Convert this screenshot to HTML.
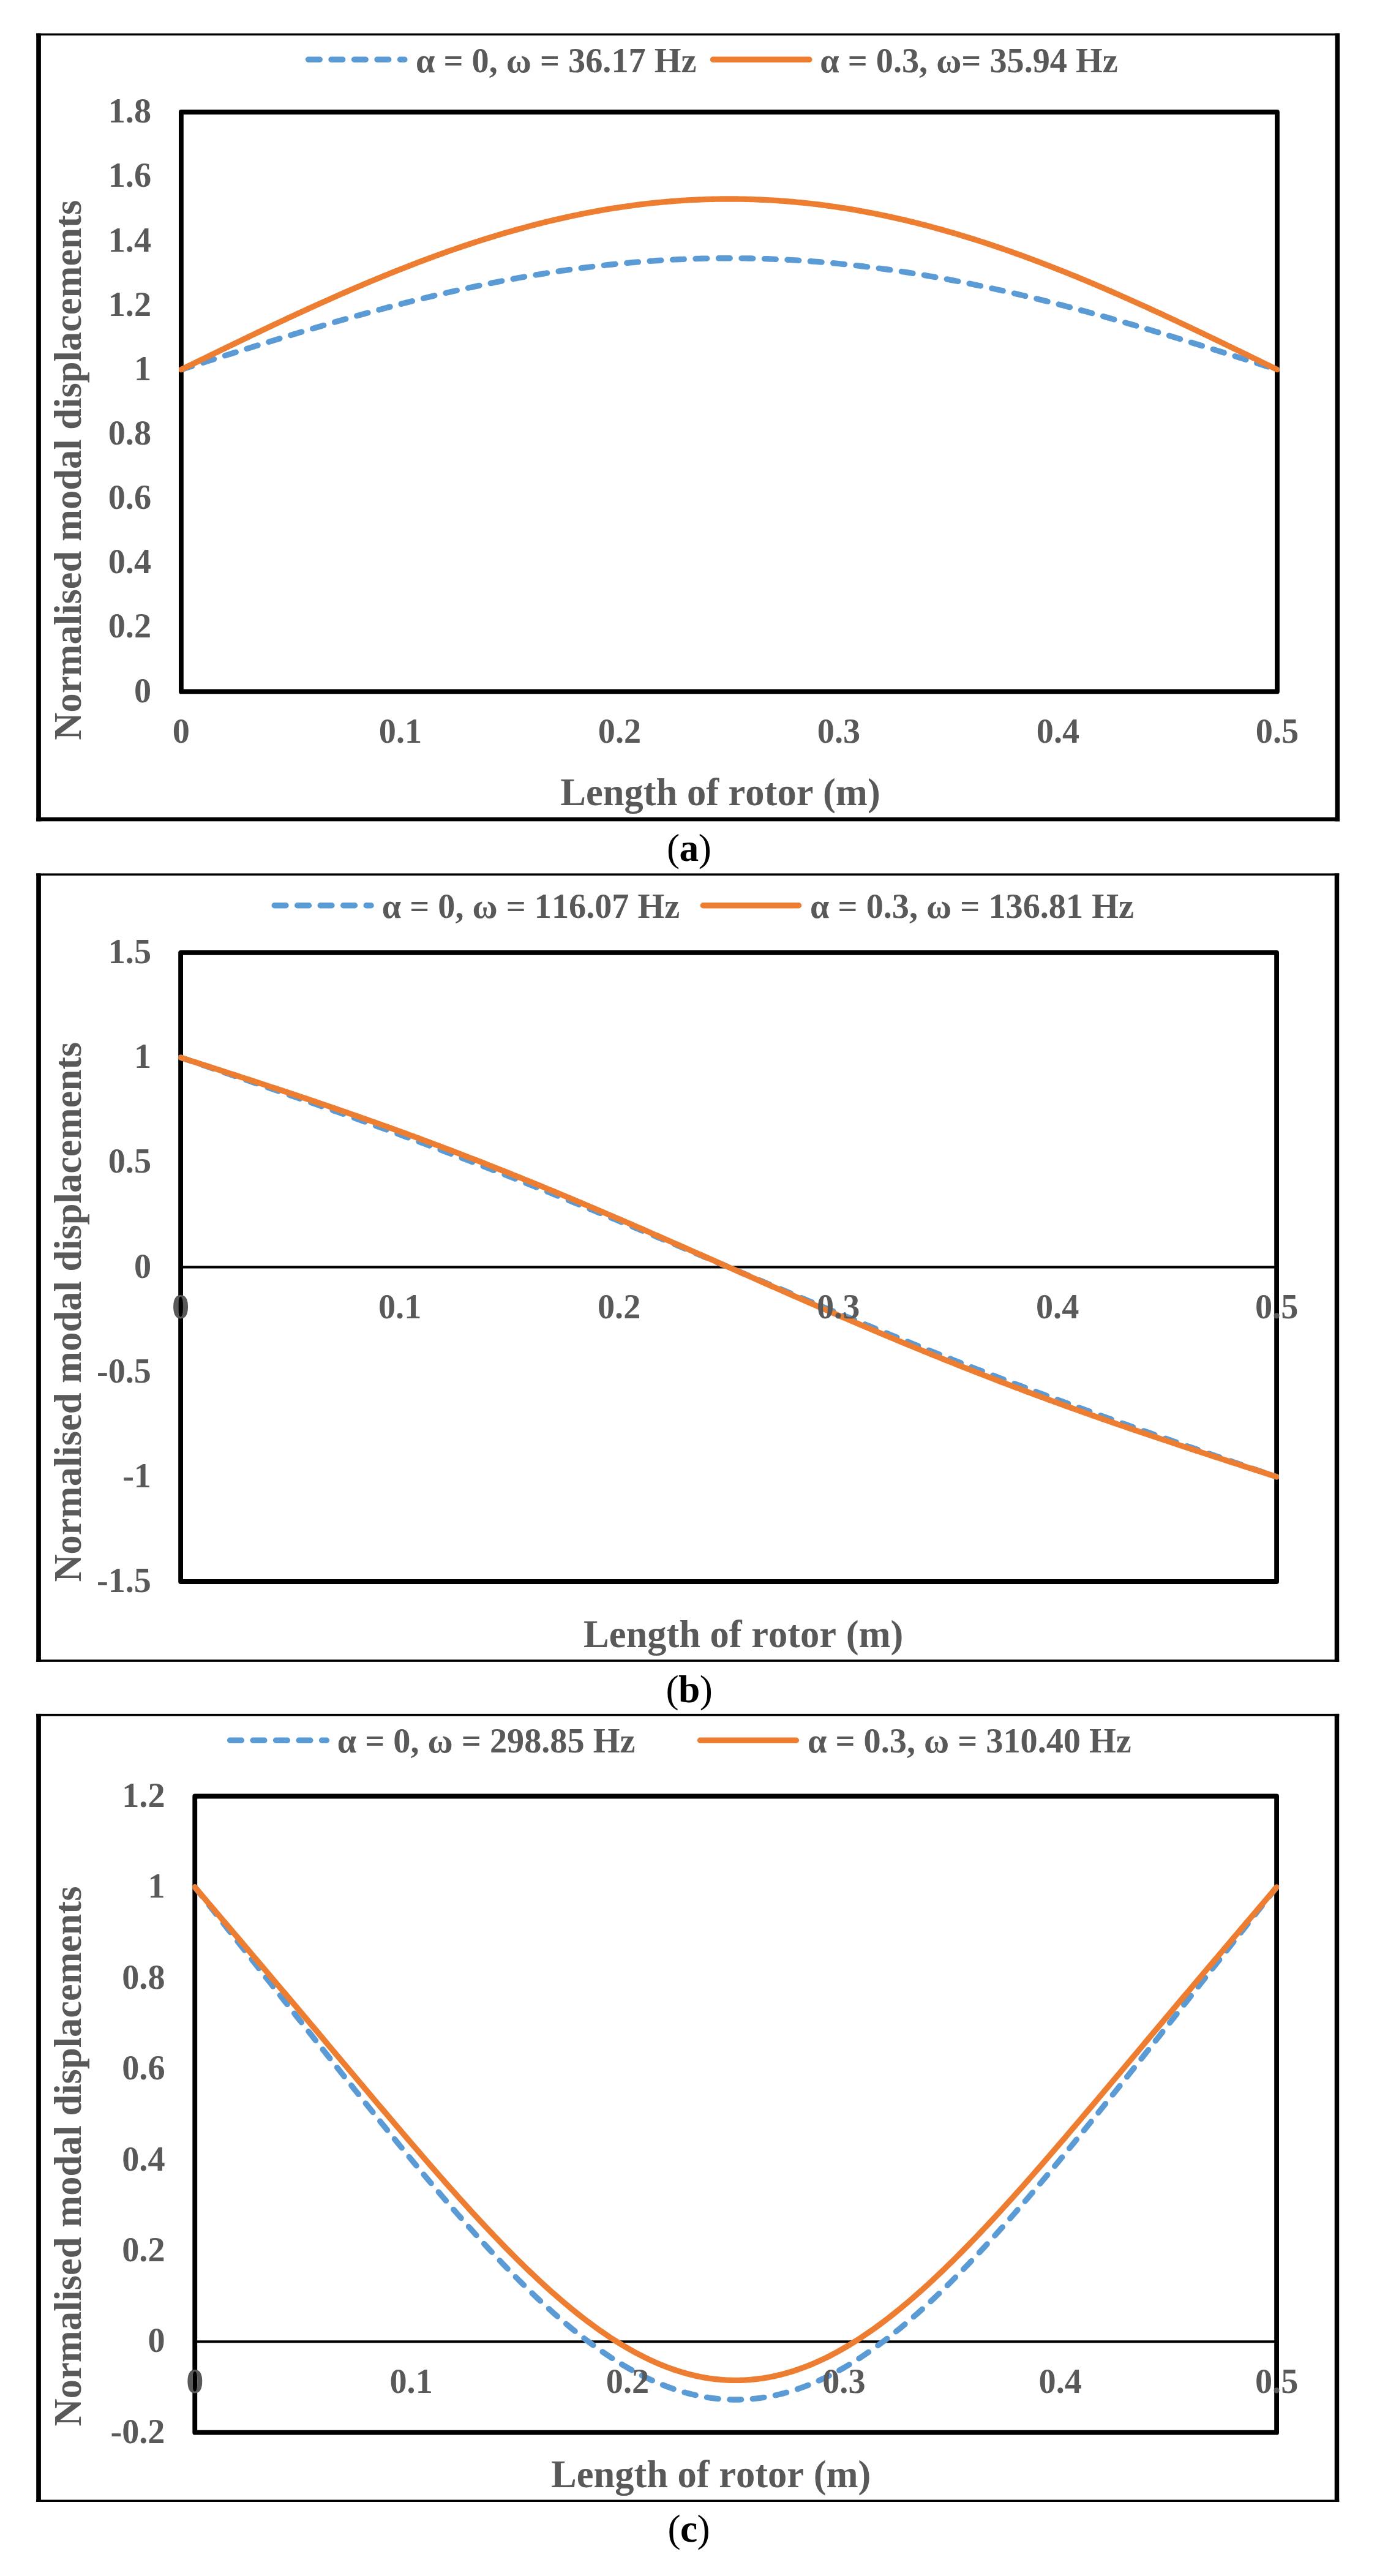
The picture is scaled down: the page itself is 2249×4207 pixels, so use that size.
<!DOCTYPE html>
<html><head><meta charset="utf-8"><title>Normalised modal displacements</title>
<style>html,body{margin:0;padding:0;background:#fff}svg{display:block}
text{font-family:"Liberation Serif",serif;font-weight:bold;font-kerning:none;font-variant-ligatures:none}</style></head>
<body><svg width="2249" height="4207" viewBox="0 0 2249 4207">
<rect width="2249" height="4207" fill="#fff"/>
<rect x="59.2" y="54.5" width="2128.80" height="3.4" fill="#000"/>
<rect x="59.2" y="1334.70" width="2128.80" height="6.6" fill="#000"/>
<rect x="59.2" y="54.5" width="7.7" height="1286.80" fill="#000"/>
<rect x="2180.50" y="54.5" width="7.5" height="1286.80" fill="#000"/>
<clipPath id="cp1"><rect x="292.00" y="179.10" width="1797.85" height="954.20"/></clipPath>
<rect x="295.9" y="183" width="1790.05" height="946.40" fill="none" stroke="#000" stroke-width="7.8" stroke-linejoin="round"/>
<g clip-path="url(#cp1)">
<path d="M295.90,603.62 L300.38,602.19 L304.85,600.76 L309.33,599.34 L313.80,597.91 L318.28,596.48 L322.75,595.05 L327.23,593.63 L331.70,592.20 L336.18,590.77 L340.65,589.35 L345.13,587.93 L349.60,586.50 L354.08,585.08 L358.55,583.66 L363.03,582.24 L367.50,580.82 L371.98,579.40 L376.45,577.99 L380.93,576.58 L385.40,575.16 L389.88,573.75 L394.35,572.35 L398.83,570.94 L403.30,569.53 L407.78,568.13 L412.25,566.73 L416.73,565.33 L421.20,563.94 L425.68,562.54 L430.15,561.15 L434.63,559.77 L439.10,558.38 L443.58,557.00 L448.05,555.62 L452.53,554.24 L457.00,552.87 L461.48,551.50 L465.95,550.13 L470.43,548.77 L474.90,547.41 L479.38,546.05 L483.86,544.70 L488.33,543.35 L492.81,542.00 L497.28,540.66 L501.76,539.32 L506.23,537.98 L510.71,536.65 L515.18,535.33 L519.66,534.00 L524.13,532.69 L528.61,531.37 L533.08,530.06 L537.56,528.76 L542.03,527.46 L546.51,526.16 L550.98,524.87 L555.46,523.59 L559.93,522.31 L564.41,521.03 L568.88,519.76 L573.36,518.50 L577.83,517.24 L582.31,515.98 L586.78,514.73 L591.26,513.49 L595.73,512.25 L600.21,511.02 L604.68,509.79 L609.16,508.57 L613.63,507.35 L618.11,506.15 L622.58,504.94 L627.06,503.74 L631.53,502.55 L636.01,501.37 L640.48,500.19 L644.96,499.02 L649.43,497.85 L653.91,496.69 L658.39,495.54 L662.86,494.39 L667.34,493.26 L671.81,492.12 L676.29,491.00 L680.76,489.88 L685.24,488.77 L689.71,487.66 L694.19,486.57 L698.66,485.48 L703.14,484.39 L707.61,483.32 L712.09,482.25 L716.56,481.19 L721.04,480.14 L725.51,479.09 L729.99,478.05 L734.46,477.02 L738.94,476.00 L743.41,474.99 L747.89,473.98 L752.36,472.98 L756.84,471.99 L761.31,471.01 L765.79,470.03 L770.26,469.07 L774.74,468.11 L779.21,467.16 L783.69,466.22 L788.16,465.29 L792.64,464.37 L797.11,463.45 L801.59,462.54 L806.06,461.65 L810.54,460.76 L815.01,459.88 L819.49,459.01 L823.96,458.14 L828.44,457.29 L832.91,456.45 L837.39,455.61 L841.87,454.79 L846.34,453.97 L850.82,453.16 L855.29,452.36 L859.77,451.57 L864.24,450.79 L868.72,450.02 L873.19,449.26 L877.67,448.51 L882.14,447.77 L886.62,447.04 L891.09,446.31 L895.57,445.60 L900.04,444.90 L904.52,444.21 L908.99,443.52 L913.47,442.85 L917.94,442.18 L922.42,441.53 L926.89,440.89 L931.37,440.25 L935.84,439.63 L940.32,439.02 L944.79,438.41 L949.27,437.82 L953.74,437.24 L958.22,436.67 L962.69,436.10 L967.17,435.55 L971.64,435.01 L976.12,434.48 L980.59,433.96 L985.07,433.45 L989.54,432.95 L994.02,432.46 L998.49,431.98 L1002.97,431.51 L1007.44,431.05 L1011.92,430.61 L1016.40,430.17 L1020.87,429.75 L1025.35,429.33 L1029.82,428.93 L1034.30,428.53 L1038.77,428.15 L1043.25,427.78 L1047.72,427.42 L1052.20,427.07 L1056.67,426.73 L1061.15,426.40 L1065.62,426.08 L1070.10,425.78 L1074.57,425.48 L1079.05,425.20 L1083.52,424.93 L1088.00,424.66 L1092.47,424.41 L1096.95,424.17 L1101.42,423.94 L1105.90,423.72 L1110.37,423.52 L1114.85,423.32 L1119.32,423.14 L1123.80,422.96 L1128.27,422.80 L1132.75,422.65 L1137.22,422.51 L1141.70,422.38 L1146.17,422.26 L1150.65,422.16 L1155.12,422.06 L1159.60,421.98 L1164.07,421.91 L1168.55,421.84 L1173.02,421.79 L1177.50,421.75 L1181.97,421.73 L1186.45,421.71 L1190.92,421.70 L1195.40,421.71 L1199.88,421.73 L1204.35,421.75 L1208.83,421.79 L1213.30,421.84 L1217.78,421.91 L1222.25,421.98 L1226.73,422.06 L1231.20,422.16 L1235.68,422.26 L1240.15,422.38 L1244.63,422.51 L1249.10,422.65 L1253.58,422.80 L1258.05,422.96 L1262.53,423.14 L1267.00,423.32 L1271.48,423.52 L1275.95,423.72 L1280.43,423.94 L1284.90,424.17 L1289.38,424.41 L1293.85,424.66 L1298.33,424.93 L1302.80,425.20 L1307.28,425.48 L1311.75,425.78 L1316.23,426.08 L1320.70,426.40 L1325.18,426.73 L1329.65,427.07 L1334.13,427.42 L1338.60,427.78 L1343.08,428.15 L1347.55,428.53 L1352.03,428.93 L1356.50,429.33 L1360.98,429.75 L1365.45,430.17 L1369.93,430.61 L1374.41,431.05 L1378.88,431.51 L1383.36,431.98 L1387.83,432.46 L1392.31,432.95 L1396.78,433.45 L1401.26,433.96 L1405.73,434.48 L1410.21,435.01 L1414.68,435.55 L1419.16,436.10 L1423.63,436.67 L1428.11,437.24 L1432.58,437.82 L1437.06,438.41 L1441.53,439.02 L1446.01,439.63 L1450.48,440.25 L1454.96,440.89 L1459.43,441.53 L1463.91,442.18 L1468.38,442.85 L1472.86,443.52 L1477.33,444.21 L1481.81,444.90 L1486.28,445.60 L1490.76,446.31 L1495.23,447.04 L1499.71,447.77 L1504.18,448.51 L1508.66,449.26 L1513.13,450.02 L1517.61,450.79 L1522.08,451.57 L1526.56,452.36 L1531.03,453.16 L1535.51,453.97 L1539.98,454.79 L1544.46,455.61 L1548.93,456.45 L1553.41,457.29 L1557.89,458.14 L1562.36,459.01 L1566.84,459.88 L1571.31,460.76 L1575.79,461.65 L1580.26,462.54 L1584.74,463.45 L1589.21,464.37 L1593.69,465.29 L1598.16,466.22 L1602.64,467.16 L1607.11,468.11 L1611.59,469.07 L1616.06,470.03 L1620.54,471.01 L1625.01,471.99 L1629.49,472.98 L1633.96,473.98 L1638.44,474.99 L1642.91,476.00 L1647.39,477.02 L1651.86,478.05 L1656.34,479.09 L1660.81,480.14 L1665.29,481.19 L1669.76,482.25 L1674.24,483.32 L1678.71,484.39 L1683.19,485.48 L1687.66,486.57 L1692.14,487.66 L1696.61,488.77 L1701.09,489.88 L1705.56,491.00 L1710.04,492.12 L1714.51,493.26 L1718.99,494.39 L1723.46,495.54 L1727.94,496.69 L1732.42,497.85 L1736.89,499.02 L1741.37,500.19 L1745.84,501.37 L1750.32,502.55 L1754.79,503.74 L1759.27,504.94 L1763.74,506.15 L1768.22,507.35 L1772.69,508.57 L1777.17,509.79 L1781.64,511.02 L1786.12,512.25 L1790.59,513.49 L1795.07,514.73 L1799.54,515.98 L1804.02,517.24 L1808.49,518.50 L1812.97,519.76 L1817.44,521.03 L1821.92,522.31 L1826.39,523.59 L1830.87,524.87 L1835.34,526.16 L1839.82,527.46 L1844.29,528.76 L1848.77,530.06 L1853.24,531.37 L1857.72,532.69 L1862.19,534.00 L1866.67,535.33 L1871.14,536.65 L1875.62,537.98 L1880.09,539.32 L1884.57,540.66 L1889.04,542.00 L1893.52,543.35 L1897.99,544.70 L1902.47,546.05 L1906.94,547.41 L1911.42,548.77 L1915.90,550.13 L1920.37,551.50 L1924.85,552.87 L1929.32,554.24 L1933.80,555.62 L1938.27,557.00 L1942.75,558.38 L1947.22,559.77 L1951.70,561.15 L1956.17,562.54 L1960.65,563.94 L1965.12,565.33 L1969.60,566.73 L1974.07,568.13 L1978.55,569.53 L1983.02,570.94 L1987.50,572.35 L1991.97,573.75 L1996.45,575.16 L2000.92,576.58 L2005.40,577.99 L2009.87,579.40 L2014.35,580.82 L2018.82,582.24 L2023.30,583.66 L2027.77,585.08 L2032.25,586.50 L2036.72,587.93 L2041.20,589.35 L2045.67,590.77 L2050.15,592.20 L2054.62,593.63 L2059.10,595.05 L2063.57,596.48 L2068.05,597.91 L2072.52,599.34 L2077.00,600.76 L2081.47,602.19 L2085.95,603.62" fill="none" stroke="#5B9BD5" stroke-width="9.375" stroke-dasharray="18.75 18.75" stroke-linecap="round" stroke-linejoin="round"/>
<path d="M295.90,603.62 L300.38,601.43 L304.85,599.25 L309.33,597.06 L313.80,594.87 L318.28,592.68 L322.75,590.50 L327.23,588.31 L331.70,586.12 L336.18,583.94 L340.65,581.76 L345.13,579.58 L349.60,577.40 L354.08,575.22 L358.55,573.04 L363.03,570.87 L367.50,568.70 L371.98,566.53 L376.45,564.36 L380.93,562.19 L385.40,560.03 L389.88,557.87 L394.35,555.71 L398.83,553.56 L403.30,551.41 L407.78,549.26 L412.25,547.11 L416.73,544.97 L421.20,542.83 L425.68,540.70 L430.15,538.57 L434.63,536.44 L439.10,534.32 L443.58,532.20 L448.05,530.09 L452.53,527.98 L457.00,525.88 L461.48,523.78 L465.95,521.68 L470.43,519.59 L474.90,517.51 L479.38,515.43 L483.86,513.36 L488.33,511.29 L492.81,509.23 L497.28,507.17 L501.76,505.12 L506.23,503.08 L510.71,501.04 L515.18,499.01 L519.66,496.98 L524.13,494.96 L528.61,492.95 L533.08,490.95 L537.56,488.95 L542.03,486.96 L546.51,484.97 L550.98,483.00 L555.46,481.03 L559.93,479.07 L564.41,477.11 L568.88,475.17 L573.36,473.23 L577.83,471.30 L582.31,469.38 L586.78,467.46 L591.26,465.56 L595.73,463.66 L600.21,461.77 L604.68,459.89 L609.16,458.02 L613.63,456.16 L618.11,454.31 L622.58,452.46 L627.06,450.63 L631.53,448.81 L636.01,446.99 L640.48,445.19 L644.96,443.39 L649.43,441.60 L653.91,439.83 L658.39,438.06 L662.86,436.31 L667.34,434.56 L671.81,432.83 L676.29,431.10 L680.76,429.39 L685.24,427.69 L689.71,426.00 L694.19,424.32 L698.66,422.65 L703.14,420.99 L707.61,419.34 L712.09,417.70 L716.56,416.08 L721.04,414.47 L725.51,412.86 L729.99,411.28 L734.46,409.70 L738.94,408.13 L743.41,406.58 L747.89,405.04 L752.36,403.51 L756.84,401.99 L761.31,400.49 L765.79,398.99 L770.26,397.51 L774.74,396.05 L779.21,394.59 L783.69,393.15 L788.16,391.73 L792.64,390.31 L797.11,388.91 L801.59,387.52 L806.06,386.15 L810.54,384.78 L815.01,383.44 L819.49,382.10 L823.96,380.78 L828.44,379.47 L832.91,378.18 L837.39,376.90 L841.87,375.63 L846.34,374.38 L850.82,373.15 L855.29,371.92 L859.77,370.71 L864.24,369.52 L868.72,368.34 L873.19,367.17 L877.67,366.02 L882.14,364.89 L886.62,363.77 L891.09,362.66 L895.57,361.57 L900.04,360.49 L904.52,359.43 L908.99,358.38 L913.47,357.35 L917.94,356.33 L922.42,355.33 L926.89,354.35 L931.37,353.38 L935.84,352.42 L940.32,351.48 L944.79,350.56 L949.27,349.65 L953.74,348.76 L958.22,347.88 L962.69,347.02 L967.17,346.17 L971.64,345.34 L976.12,344.53 L980.59,343.73 L985.07,342.95 L989.54,342.18 L994.02,341.43 L998.49,340.70 L1002.97,339.98 L1007.44,339.28 L1011.92,338.60 L1016.40,337.93 L1020.87,337.28 L1025.35,336.64 L1029.82,336.02 L1034.30,335.42 L1038.77,334.84 L1043.25,334.27 L1047.72,333.71 L1052.20,333.18 L1056.67,332.66 L1061.15,332.16 L1065.62,331.67 L1070.10,331.20 L1074.57,330.75 L1079.05,330.31 L1083.52,329.90 L1088.00,329.49 L1092.47,329.11 L1096.95,328.74 L1101.42,328.39 L1105.90,328.06 L1110.37,327.74 L1114.85,327.44 L1119.32,327.16 L1123.80,326.89 L1128.27,326.64 L1132.75,326.41 L1137.22,326.20 L1141.70,326.00 L1146.17,325.82 L1150.65,325.66 L1155.12,325.51 L1159.60,325.38 L1164.07,325.27 L1168.55,325.17 L1173.02,325.10 L1177.50,325.04 L1181.97,324.99 L1186.45,324.97 L1190.92,324.96 L1195.40,324.97 L1199.88,324.99 L1204.35,325.04 L1208.83,325.10 L1213.30,325.17 L1217.78,325.27 L1222.25,325.38 L1226.73,325.51 L1231.20,325.66 L1235.68,325.82 L1240.15,326.00 L1244.63,326.20 L1249.10,326.41 L1253.58,326.64 L1258.05,326.89 L1262.53,327.16 L1267.00,327.44 L1271.48,327.74 L1275.95,328.06 L1280.43,328.39 L1284.90,328.74 L1289.38,329.11 L1293.85,329.49 L1298.33,329.90 L1302.80,330.31 L1307.28,330.75 L1311.75,331.20 L1316.23,331.67 L1320.70,332.16 L1325.18,332.66 L1329.65,333.18 L1334.13,333.71 L1338.60,334.27 L1343.08,334.84 L1347.55,335.42 L1352.03,336.02 L1356.50,336.64 L1360.98,337.28 L1365.45,337.93 L1369.93,338.60 L1374.41,339.28 L1378.88,339.98 L1383.36,340.70 L1387.83,341.43 L1392.31,342.18 L1396.78,342.95 L1401.26,343.73 L1405.73,344.53 L1410.21,345.34 L1414.68,346.17 L1419.16,347.02 L1423.63,347.88 L1428.11,348.76 L1432.58,349.65 L1437.06,350.56 L1441.53,351.48 L1446.01,352.42 L1450.48,353.38 L1454.96,354.35 L1459.43,355.33 L1463.91,356.33 L1468.38,357.35 L1472.86,358.38 L1477.33,359.43 L1481.81,360.49 L1486.28,361.57 L1490.76,362.66 L1495.23,363.77 L1499.71,364.89 L1504.18,366.02 L1508.66,367.17 L1513.13,368.34 L1517.61,369.52 L1522.08,370.71 L1526.56,371.92 L1531.03,373.15 L1535.51,374.38 L1539.98,375.63 L1544.46,376.90 L1548.93,378.18 L1553.41,379.47 L1557.89,380.78 L1562.36,382.10 L1566.84,383.44 L1571.31,384.78 L1575.79,386.15 L1580.26,387.52 L1584.74,388.91 L1589.21,390.31 L1593.69,391.73 L1598.16,393.15 L1602.64,394.59 L1607.11,396.05 L1611.59,397.51 L1616.06,398.99 L1620.54,400.49 L1625.01,401.99 L1629.49,403.51 L1633.96,405.04 L1638.44,406.58 L1642.91,408.13 L1647.39,409.70 L1651.86,411.28 L1656.34,412.86 L1660.81,414.47 L1665.29,416.08 L1669.76,417.70 L1674.24,419.34 L1678.71,420.99 L1683.19,422.65 L1687.66,424.32 L1692.14,426.00 L1696.61,427.69 L1701.09,429.39 L1705.56,431.10 L1710.04,432.83 L1714.51,434.56 L1718.99,436.31 L1723.46,438.06 L1727.94,439.83 L1732.42,441.60 L1736.89,443.39 L1741.37,445.19 L1745.84,446.99 L1750.32,448.81 L1754.79,450.63 L1759.27,452.46 L1763.74,454.31 L1768.22,456.16 L1772.69,458.02 L1777.17,459.89 L1781.64,461.77 L1786.12,463.66 L1790.59,465.56 L1795.07,467.46 L1799.54,469.38 L1804.02,471.30 L1808.49,473.23 L1812.97,475.17 L1817.44,477.11 L1821.92,479.07 L1826.39,481.03 L1830.87,483.00 L1835.34,484.97 L1839.82,486.96 L1844.29,488.95 L1848.77,490.95 L1853.24,492.95 L1857.72,494.96 L1862.19,496.98 L1866.67,499.01 L1871.14,501.04 L1875.62,503.08 L1880.09,505.12 L1884.57,507.17 L1889.04,509.23 L1893.52,511.29 L1897.99,513.36 L1902.47,515.43 L1906.94,517.51 L1911.42,519.59 L1915.90,521.68 L1920.37,523.78 L1924.85,525.88 L1929.32,527.98 L1933.80,530.09 L1938.27,532.20 L1942.75,534.32 L1947.22,536.44 L1951.70,538.57 L1956.17,540.70 L1960.65,542.83 L1965.12,544.97 L1969.60,547.11 L1974.07,549.26 L1978.55,551.41 L1983.02,553.56 L1987.50,555.71 L1991.97,557.87 L1996.45,560.03 L2000.92,562.19 L2005.40,564.36 L2009.87,566.53 L2014.35,568.70 L2018.82,570.87 L2023.30,573.04 L2027.77,575.22 L2032.25,577.40 L2036.72,579.58 L2041.20,581.76 L2045.67,583.94 L2050.15,586.12 L2054.62,588.31 L2059.10,590.50 L2063.57,592.68 L2068.05,594.87 L2072.52,597.06 L2077.00,599.25 L2081.47,601.43 L2085.95,603.62" fill="none" stroke="#ED7D31" stroke-width="9.375" stroke-linecap="round" stroke-linejoin="round"/>
</g>
<text x="295.90" y="1212.50" font-size="56.25" text-anchor="middle" fill="#595959" >0</text>
<text x="653.91" y="1212.50" font-size="56.25" text-anchor="middle" fill="#595959" >0.1</text>
<text x="1011.92" y="1212.50" font-size="56.25" text-anchor="middle" fill="#595959" >0.2</text>
<text x="1369.93" y="1212.50" font-size="56.25" text-anchor="middle" fill="#595959" >0.3</text>
<text x="1727.94" y="1212.50" font-size="56.25" text-anchor="middle" fill="#595959" >0.4</text>
<text x="2085.95" y="1212.50" font-size="56.25" text-anchor="middle" fill="#595959" >0.5</text>
<text x="247.00" y="1146.60" font-size="56.25" text-anchor="end" fill="#595959" >0</text>
<text x="247.00" y="1041.44" font-size="56.25" text-anchor="end" fill="#595959" >0.2</text>
<text x="247.00" y="936.29" font-size="56.25" text-anchor="end" fill="#595959" >0.4</text>
<text x="247.00" y="831.13" font-size="56.25" text-anchor="end" fill="#595959" >0.6</text>
<text x="247.00" y="725.98" font-size="56.25" text-anchor="end" fill="#595959" >0.8</text>
<text x="247.00" y="620.82" font-size="56.25" text-anchor="end" fill="#595959" >1</text>
<text x="247.00" y="515.67" font-size="56.25" text-anchor="end" fill="#595959" >1.2</text>
<text x="247.00" y="410.51" font-size="56.25" text-anchor="end" fill="#595959" >1.4</text>
<text x="247.00" y="305.36" font-size="56.25" text-anchor="end" fill="#595959" >1.6</text>
<text x="247.00" y="200.20" font-size="56.25" text-anchor="end" fill="#595959" >1.8</text>
<text x="1176.50" y="1315.20" font-size="62.5" text-anchor="middle" fill="#595959" >Length of rotor (m)</text>
<text transform="translate(131.7,767.7) rotate(-90)" font-size="62.5" text-anchor="middle" fill="#595959">Normalised modal displacements</text>
<line x1="503.50" x2="660.90" y1="97.2" y2="97.2" stroke="#5B9BD5" stroke-width="9.375" stroke-dasharray="18.75 18.75" stroke-linecap="round"/>
<text x="679.00" y="117.60" font-size="56.25" text-anchor="start" fill="#595959" >α = 0, ω = 36.17 Hz</text>
<line x1="1164.50" x2="1321.90" y1="97.2" y2="97.2" stroke="#ED7D31" stroke-width="9.375" stroke-linecap="round"/>
<text x="1339.20" y="117.60" font-size="56.25" text-anchor="start" fill="#595959" >α = 0.3, ω= 35.94 Hz</text>
<text x="1125.2" y="1406.3" font-size="63.5" text-anchor="middle" fill="#000" style="font-weight:normal;letter-spacing:-0.6px">(<tspan style="font-weight:bold">a</tspan>)</text>
<rect x="59.2" y="1426.4" width="2128.00" height="3.5" fill="#000"/>
<rect x="59.2" y="2710.40" width="2128.00" height="3.5" fill="#000"/>
<rect x="59.2" y="1426.4" width="7.7" height="1287.50" fill="#000"/>
<rect x="2179.70" y="1426.4" width="7.5" height="1287.50" fill="#000"/>
<clipPath id="cp2"><rect x="291.20" y="1552.00" width="1797.80" height="1034.90"/></clipPath>
<line x1="295.1" x2="2085.1" y1="2069.45" y2="2069.45" stroke="#000" stroke-width="4.2"/>
<rect x="295.1" y="1555.9" width="1790.00" height="1027.10" fill="none" stroke="#000" stroke-width="7.8" stroke-linejoin="round"/>
<g clip-path="url(#cp2)">
<path d="M295.10,1727.08 L299.58,1728.61 L304.05,1730.14 L308.53,1731.67 L313.00,1733.20 L317.48,1734.73 L321.95,1736.26 L326.43,1737.79 L330.90,1739.32 L335.38,1740.85 L339.85,1742.38 L344.33,1743.91 L348.80,1745.44 L353.28,1746.98 L357.75,1748.51 L362.23,1750.04 L366.70,1751.58 L371.18,1753.11 L375.65,1754.65 L380.12,1756.19 L384.60,1757.72 L389.08,1759.26 L393.55,1760.80 L398.03,1762.34 L402.50,1763.88 L406.98,1765.42 L411.45,1766.97 L415.93,1768.51 L420.40,1770.06 L424.88,1771.61 L429.35,1773.15 L433.83,1774.70 L438.30,1776.25 L442.78,1777.81 L447.25,1779.36 L451.73,1780.92 L456.20,1782.47 L460.68,1784.03 L465.15,1785.59 L469.62,1787.15 L474.10,1788.71 L478.58,1790.28 L483.05,1791.85 L487.52,1793.41 L492.00,1794.98 L496.48,1796.56 L500.95,1798.13 L505.43,1799.71 L509.90,1801.28 L514.38,1802.86 L518.85,1804.44 L523.33,1806.03 L527.80,1807.61 L532.28,1809.20 L536.75,1810.79 L541.23,1812.38 L545.70,1813.98 L550.17,1815.57 L554.65,1817.17 L559.12,1818.77 L563.60,1820.38 L568.08,1821.98 L572.55,1823.59 L577.03,1825.20 L581.50,1826.81 L585.98,1828.43 L590.45,1830.04 L594.93,1831.66 L599.40,1833.29 L603.88,1834.91 L608.35,1836.54 L612.83,1838.17 L617.30,1839.80 L621.78,1841.44 L626.25,1843.08 L630.73,1844.72 L635.20,1846.36 L639.67,1848.01 L644.15,1849.65 L648.62,1851.31 L653.10,1852.96 L657.58,1854.62 L662.05,1856.28 L666.52,1857.94 L671.00,1859.60 L675.48,1861.27 L679.95,1862.94 L684.42,1864.61 L688.90,1866.29 L693.38,1867.97 L697.85,1869.65 L702.33,1871.34 L706.80,1873.02 L711.28,1874.71 L715.75,1876.41 L720.23,1878.10 L724.70,1879.80 L729.17,1881.50 L733.65,1883.21 L738.12,1884.92 L742.60,1886.63 L747.08,1888.34 L751.55,1890.06 L756.03,1891.77 L760.50,1893.50 L764.98,1895.22 L769.45,1896.95 L773.93,1898.68 L778.40,1900.41 L782.88,1902.15 L787.35,1903.89 L791.83,1905.63 L796.30,1907.37 L800.77,1909.12 L805.25,1910.87 L809.73,1912.63 L814.20,1914.38 L818.67,1916.14 L823.15,1917.90 L827.62,1919.67 L832.10,1921.43 L836.58,1923.20 L841.05,1924.97 L845.52,1926.75 L850.00,1928.53 L854.48,1930.31 L858.95,1932.09 L863.43,1933.88 L867.90,1935.67 L872.38,1937.46 L876.85,1939.25 L881.33,1941.05 L885.80,1942.84 L890.28,1944.65 L894.75,1946.45 L899.23,1948.26 L903.70,1950.06 L908.18,1951.88 L912.65,1953.69 L917.12,1955.50 L921.60,1957.32 L926.07,1959.14 L930.55,1960.97 L935.02,1962.79 L939.50,1964.62 L943.98,1966.45 L948.45,1968.28 L952.92,1970.11 L957.40,1971.95 L961.88,1973.79 L966.35,1975.63 L970.83,1977.47 L975.30,1979.31 L979.78,1981.16 L984.25,1983.01 L988.73,1984.86 L993.20,1986.71 L997.68,1988.56 L1002.15,1990.42 L1006.63,1992.28 L1011.10,1994.13 L1015.58,1996.00 L1020.05,1997.86 L1024.53,1999.72 L1029.00,2001.59 L1033.47,2003.45 L1037.95,2005.32 L1042.42,2007.19 L1046.90,2009.06 L1051.38,2010.94 L1055.85,2012.81 L1060.33,2014.69 L1064.80,2016.56 L1069.28,2018.44 L1073.75,2020.32 L1078.22,2022.20 L1082.70,2024.08 L1087.18,2025.96 L1091.65,2027.85 L1096.12,2029.73 L1100.60,2031.62 L1105.08,2033.50 L1109.55,2035.39 L1114.03,2037.28 L1118.50,2039.17 L1122.97,2041.06 L1127.45,2042.95 L1131.93,2044.84 L1136.40,2046.73 L1140.88,2048.62 L1145.35,2050.51 L1149.82,2052.40 L1154.30,2054.30 L1158.78,2056.19 L1163.25,2058.08 L1167.72,2059.98 L1172.20,2061.87 L1176.67,2063.77 L1181.15,2065.66 L1185.62,2067.56 L1190.10,2069.45 L1194.57,2071.34 L1199.05,2073.24 L1203.53,2075.13 L1208.00,2077.03 L1212.47,2078.92 L1216.95,2080.82 L1221.42,2082.71 L1225.90,2084.60 L1230.38,2086.50 L1234.85,2088.39 L1239.32,2090.28 L1243.80,2092.17 L1248.28,2094.06 L1252.75,2095.95 L1257.22,2097.84 L1261.70,2099.73 L1266.17,2101.62 L1270.65,2103.51 L1275.12,2105.40 L1279.60,2107.28 L1284.08,2109.17 L1288.55,2111.05 L1293.03,2112.94 L1297.50,2114.82 L1301.97,2116.70 L1306.45,2118.58 L1310.93,2120.46 L1315.40,2122.34 L1319.88,2124.21 L1324.35,2126.09 L1328.83,2127.96 L1333.30,2129.84 L1337.78,2131.71 L1342.25,2133.58 L1346.72,2135.45 L1351.20,2137.31 L1355.68,2139.18 L1360.15,2141.04 L1364.62,2142.90 L1369.10,2144.77 L1373.58,2146.62 L1378.05,2148.48 L1382.53,2150.34 L1387.00,2152.19 L1391.47,2154.04 L1395.95,2155.89 L1400.43,2157.74 L1404.90,2159.59 L1409.38,2161.43 L1413.85,2163.27 L1418.32,2165.11 L1422.80,2166.95 L1427.28,2168.79 L1431.75,2170.62 L1436.22,2172.45 L1440.70,2174.28 L1445.17,2176.11 L1449.65,2177.93 L1454.12,2179.76 L1458.60,2181.58 L1463.07,2183.40 L1467.55,2185.21 L1472.03,2187.02 L1476.50,2188.84 L1480.97,2190.64 L1485.45,2192.45 L1489.93,2194.25 L1494.40,2196.06 L1498.88,2197.85 L1503.35,2199.65 L1507.82,2201.44 L1512.30,2203.23 L1516.78,2205.02 L1521.25,2206.81 L1525.72,2208.59 L1530.20,2210.37 L1534.68,2212.15 L1539.15,2213.93 L1543.62,2215.70 L1548.10,2217.47 L1552.58,2219.23 L1557.05,2221.00 L1561.53,2222.76 L1566.00,2224.52 L1570.47,2226.27 L1574.95,2228.03 L1579.43,2229.78 L1583.90,2231.53 L1588.38,2233.27 L1592.85,2235.01 L1597.33,2236.75 L1601.80,2238.49 L1606.28,2240.22 L1610.75,2241.95 L1615.22,2243.68 L1619.70,2245.40 L1624.18,2247.13 L1628.65,2248.84 L1633.12,2250.56 L1637.60,2252.27 L1642.07,2253.98 L1646.55,2255.69 L1651.03,2257.40 L1655.50,2259.10 L1659.97,2260.80 L1664.45,2262.49 L1668.92,2264.19 L1673.40,2265.88 L1677.88,2267.56 L1682.35,2269.25 L1686.82,2270.93 L1691.30,2272.61 L1695.78,2274.29 L1700.25,2275.96 L1704.72,2277.63 L1709.20,2279.30 L1713.68,2280.96 L1718.15,2282.62 L1722.62,2284.28 L1727.10,2285.94 L1731.57,2287.59 L1736.05,2289.25 L1740.53,2290.89 L1745.00,2292.54 L1749.47,2294.18 L1753.95,2295.82 L1758.43,2297.46 L1762.90,2299.10 L1767.38,2300.73 L1771.85,2302.36 L1776.33,2303.99 L1780.80,2305.61 L1785.28,2307.24 L1789.75,2308.86 L1794.22,2310.47 L1798.70,2312.09 L1803.18,2313.70 L1807.65,2315.31 L1812.12,2316.92 L1816.60,2318.52 L1821.08,2320.13 L1825.55,2321.73 L1830.03,2323.33 L1834.50,2324.92 L1838.97,2326.52 L1843.45,2328.11 L1847.93,2329.70 L1852.40,2331.29 L1856.88,2332.87 L1861.35,2334.46 L1865.82,2336.04 L1870.30,2337.62 L1874.78,2339.19 L1879.25,2340.77 L1883.72,2342.34 L1888.20,2343.92 L1892.67,2345.49 L1897.15,2347.05 L1901.62,2348.62 L1906.10,2350.19 L1910.57,2351.75 L1915.05,2353.31 L1919.53,2354.87 L1924.00,2356.43 L1928.47,2357.98 L1932.95,2359.54 L1937.43,2361.09 L1941.90,2362.65 L1946.38,2364.20 L1950.85,2365.75 L1955.32,2367.29 L1959.80,2368.84 L1964.28,2370.39 L1968.75,2371.93 L1973.22,2373.48 L1977.70,2375.02 L1982.18,2376.56 L1986.65,2378.10 L1991.12,2379.64 L1995.60,2381.18 L2000.08,2382.71 L2004.55,2384.25 L2009.03,2385.79 L2013.50,2387.32 L2017.97,2388.86 L2022.45,2390.39 L2026.93,2391.92 L2031.40,2393.46 L2035.88,2394.99 L2040.35,2396.52 L2044.83,2398.05 L2049.30,2399.58 L2053.78,2401.11 L2058.25,2402.64 L2062.72,2404.17 L2067.20,2405.70 L2071.68,2407.23 L2076.15,2408.76 L2080.62,2410.29 L2085.10,2411.82" fill="none" stroke="#5B9BD5" stroke-width="9.375" stroke-dasharray="18.75 18.75" stroke-linecap="round" stroke-linejoin="round"/>
<path d="M295.10,1727.08 L299.58,1728.53 L304.05,1729.97 L308.53,1731.41 L313.00,1732.86 L317.48,1734.30 L321.95,1735.74 L326.43,1737.19 L330.90,1738.63 L335.38,1740.08 L339.85,1741.52 L344.33,1742.97 L348.80,1744.42 L353.28,1745.87 L357.75,1747.31 L362.23,1748.76 L366.70,1750.22 L371.18,1751.67 L375.65,1753.12 L380.12,1754.57 L384.60,1756.03 L389.08,1757.49 L393.55,1758.95 L398.03,1760.40 L402.50,1761.87 L406.98,1763.33 L411.45,1764.79 L415.93,1766.26 L420.40,1767.73 L424.88,1769.20 L429.35,1770.67 L433.83,1772.14 L438.30,1773.62 L442.78,1775.09 L447.25,1776.57 L451.73,1778.05 L456.20,1779.54 L460.68,1781.02 L465.15,1782.51 L469.62,1784.00 L474.10,1785.49 L478.58,1786.99 L483.05,1788.49 L487.52,1789.99 L492.00,1791.49 L496.48,1793.00 L500.95,1794.51 L505.43,1796.02 L509.90,1797.53 L514.38,1799.05 L518.85,1800.57 L523.33,1802.09 L527.80,1803.62 L532.28,1805.15 L536.75,1806.68 L541.23,1808.22 L545.70,1809.76 L550.17,1811.30 L554.65,1812.84 L559.12,1814.39 L563.60,1815.94 L568.08,1817.50 L572.55,1819.06 L577.03,1820.62 L581.50,1822.19 L585.98,1823.76 L590.45,1825.33 L594.93,1826.91 L599.40,1828.49 L603.88,1830.07 L608.35,1831.66 L612.83,1833.25 L617.30,1834.85 L621.78,1836.45 L626.25,1838.05 L630.73,1839.66 L635.20,1841.27 L639.67,1842.88 L644.15,1844.50 L648.62,1846.12 L653.10,1847.75 L657.58,1849.38 L662.05,1851.02 L666.52,1852.65 L671.00,1854.30 L675.48,1855.94 L679.95,1857.59 L684.42,1859.25 L688.90,1860.91 L693.38,1862.57 L697.85,1864.24 L702.33,1865.91 L706.80,1867.59 L711.28,1869.27 L715.75,1870.95 L720.23,1872.64 L724.70,1874.33 L729.17,1876.03 L733.65,1877.73 L738.12,1879.44 L742.60,1881.15 L747.08,1882.86 L751.55,1884.58 L756.03,1886.30 L760.50,1888.03 L764.98,1889.76 L769.45,1891.50 L773.93,1893.23 L778.40,1894.98 L782.88,1896.73 L787.35,1898.48 L791.83,1900.23 L796.30,1901.99 L800.77,1903.76 L805.25,1905.53 L809.73,1907.30 L814.20,1909.08 L818.67,1910.86 L823.15,1912.64 L827.62,1914.43 L832.10,1916.22 L836.58,1918.02 L841.05,1919.82 L845.52,1921.63 L850.00,1923.43 L854.48,1925.25 L858.95,1927.06 L863.43,1928.88 L867.90,1930.71 L872.38,1932.54 L876.85,1934.37 L881.33,1936.20 L885.80,1938.04 L890.28,1939.89 L894.75,1941.73 L899.23,1943.59 L903.70,1945.44 L908.18,1947.30 L912.65,1949.16 L917.12,1951.02 L921.60,1952.89 L926.07,1954.76 L930.55,1956.64 L935.02,1958.52 L939.50,1960.40 L943.98,1962.28 L948.45,1964.17 L952.92,1966.06 L957.40,1967.96 L961.88,1969.85 L966.35,1971.75 L970.83,1973.66 L975.30,1975.56 L979.78,1977.47 L984.25,1979.39 L988.73,1981.30 L993.20,1983.22 L997.68,1985.14 L1002.15,1987.06 L1006.63,1988.99 L1011.10,1990.91 L1015.58,1992.85 L1020.05,1994.78 L1024.53,1996.71 L1029.00,1998.65 L1033.47,2000.59 L1037.95,2002.53 L1042.42,2004.48 L1046.90,2006.42 L1051.38,2008.37 L1055.85,2010.32 L1060.33,2012.28 L1064.80,2014.23 L1069.28,2016.19 L1073.75,2018.14 L1078.22,2020.10 L1082.70,2022.06 L1087.18,2024.03 L1091.65,2025.99 L1096.12,2027.96 L1100.60,2029.92 L1105.08,2031.89 L1109.55,2033.86 L1114.03,2035.83 L1118.50,2037.80 L1122.97,2039.78 L1127.45,2041.75 L1131.93,2043.72 L1136.40,2045.70 L1140.88,2047.68 L1145.35,2049.65 L1149.82,2051.63 L1154.30,2053.61 L1158.78,2055.59 L1163.25,2057.57 L1167.72,2059.55 L1172.20,2061.53 L1176.67,2063.51 L1181.15,2065.49 L1185.62,2067.47 L1190.10,2069.45 L1194.57,2071.43 L1199.05,2073.41 L1203.53,2075.39 L1208.00,2077.37 L1212.47,2079.35 L1216.95,2081.33 L1221.42,2083.31 L1225.90,2085.29 L1230.38,2087.27 L1234.85,2089.25 L1239.32,2091.22 L1243.80,2093.20 L1248.28,2095.18 L1252.75,2097.15 L1257.22,2099.12 L1261.70,2101.10 L1266.17,2103.07 L1270.65,2105.04 L1275.12,2107.01 L1279.60,2108.98 L1284.08,2110.94 L1288.55,2112.91 L1293.03,2114.87 L1297.50,2116.84 L1301.97,2118.80 L1306.45,2120.76 L1310.93,2122.71 L1315.40,2124.67 L1319.88,2126.62 L1324.35,2128.58 L1328.83,2130.53 L1333.30,2132.48 L1337.78,2134.42 L1342.25,2136.37 L1346.72,2138.31 L1351.20,2140.25 L1355.68,2142.19 L1360.15,2144.12 L1364.62,2146.05 L1369.10,2147.99 L1373.58,2149.91 L1378.05,2151.84 L1382.53,2153.76 L1387.00,2155.68 L1391.47,2157.60 L1395.95,2159.51 L1400.43,2161.43 L1404.90,2163.34 L1409.38,2165.24 L1413.85,2167.15 L1418.32,2169.05 L1422.80,2170.94 L1427.28,2172.84 L1431.75,2174.73 L1436.22,2176.62 L1440.70,2178.50 L1445.17,2180.38 L1449.65,2182.26 L1454.12,2184.14 L1458.60,2186.01 L1463.07,2187.88 L1467.55,2189.74 L1472.03,2191.60 L1476.50,2193.46 L1480.97,2195.31 L1485.45,2197.17 L1489.93,2199.01 L1494.40,2200.86 L1498.88,2202.70 L1503.35,2204.53 L1507.82,2206.36 L1512.30,2208.19 L1516.78,2210.02 L1521.25,2211.84 L1525.72,2213.65 L1530.20,2215.47 L1534.68,2217.27 L1539.15,2219.08 L1543.62,2220.88 L1548.10,2222.68 L1552.58,2224.47 L1557.05,2226.26 L1561.53,2228.04 L1566.00,2229.82 L1570.47,2231.60 L1574.95,2233.37 L1579.43,2235.14 L1583.90,2236.91 L1588.38,2238.67 L1592.85,2240.42 L1597.33,2242.17 L1601.80,2243.92 L1606.28,2245.67 L1610.75,2247.40 L1615.22,2249.14 L1619.70,2250.87 L1624.18,2252.60 L1628.65,2254.32 L1633.12,2256.04 L1637.60,2257.75 L1642.07,2259.46 L1646.55,2261.17 L1651.03,2262.87 L1655.50,2264.57 L1659.97,2266.26 L1664.45,2267.95 L1668.92,2269.63 L1673.40,2271.31 L1677.88,2272.99 L1682.35,2274.66 L1686.82,2276.33 L1691.30,2277.99 L1695.78,2279.65 L1700.25,2281.31 L1704.72,2282.96 L1709.20,2284.60 L1713.68,2286.25 L1718.15,2287.88 L1722.62,2289.52 L1727.10,2291.15 L1731.57,2292.78 L1736.05,2294.40 L1740.53,2296.02 L1745.00,2297.63 L1749.47,2299.24 L1753.95,2300.85 L1758.43,2302.45 L1762.90,2304.05 L1767.38,2305.65 L1771.85,2307.24 L1776.33,2308.83 L1780.80,2310.41 L1785.28,2311.99 L1789.75,2313.57 L1794.22,2315.14 L1798.70,2316.71 L1803.18,2318.28 L1807.65,2319.84 L1812.12,2321.40 L1816.60,2322.96 L1821.08,2324.51 L1825.55,2326.06 L1830.03,2327.60 L1834.50,2329.14 L1838.97,2330.68 L1843.45,2332.22 L1847.93,2333.75 L1852.40,2335.28 L1856.88,2336.81 L1861.35,2338.33 L1865.82,2339.85 L1870.30,2341.37 L1874.78,2342.88 L1879.25,2344.39 L1883.72,2345.90 L1888.20,2347.41 L1892.67,2348.91 L1897.15,2350.41 L1901.62,2351.91 L1906.10,2353.41 L1910.57,2354.90 L1915.05,2356.39 L1919.53,2357.88 L1924.00,2359.36 L1928.47,2360.85 L1932.95,2362.33 L1937.43,2363.81 L1941.90,2365.28 L1946.38,2366.76 L1950.85,2368.23 L1955.32,2369.70 L1959.80,2371.17 L1964.28,2372.64 L1968.75,2374.11 L1973.22,2375.57 L1977.70,2377.03 L1982.18,2378.50 L1986.65,2379.95 L1991.12,2381.41 L1995.60,2382.87 L2000.08,2384.33 L2004.55,2385.78 L2009.03,2387.23 L2013.50,2388.68 L2017.97,2390.14 L2022.45,2391.59 L2026.93,2393.03 L2031.40,2394.48 L2035.88,2395.93 L2040.35,2397.38 L2044.83,2398.82 L2049.30,2400.27 L2053.78,2401.71 L2058.25,2403.16 L2062.72,2404.60 L2067.20,2406.04 L2071.68,2407.49 L2076.15,2408.93 L2080.62,2410.37 L2085.10,2411.82" fill="none" stroke="#ED7D31" stroke-width="9.375" stroke-linecap="round" stroke-linejoin="round"/>
</g>
<text x="295.10" y="2153.00" font-size="56.25" text-anchor="middle" fill="#595959" >0</text>
<text x="653.10" y="2153.00" font-size="56.25" text-anchor="middle" fill="#595959" >0.1</text>
<text x="1011.10" y="2153.00" font-size="56.25" text-anchor="middle" fill="#595959" >0.2</text>
<text x="1369.10" y="2153.00" font-size="56.25" text-anchor="middle" fill="#595959" >0.3</text>
<text x="1727.10" y="2153.00" font-size="56.25" text-anchor="middle" fill="#595959" >0.4</text>
<text x="2085.10" y="2153.00" font-size="56.25" text-anchor="middle" fill="#595959" >0.5</text>
<text x="247.00" y="2600.20" font-size="56.25" text-anchor="end" fill="#595959" >-1.5</text>
<text x="247.00" y="2429.02" font-size="56.25" text-anchor="end" fill="#595959" >-1</text>
<text x="247.00" y="2257.83" font-size="56.25" text-anchor="end" fill="#595959" >-0.5</text>
<text x="247.00" y="2086.65" font-size="56.25" text-anchor="end" fill="#595959" >0</text>
<text x="247.00" y="1915.47" font-size="56.25" text-anchor="end" fill="#595959" >0.5</text>
<text x="247.00" y="1744.28" font-size="56.25" text-anchor="end" fill="#595959" >1</text>
<text x="247.00" y="1573.10" font-size="56.25" text-anchor="end" fill="#595959" >1.5</text>
<text x="1214.20" y="2689.90" font-size="62.5" text-anchor="middle" fill="#595959" >Length of rotor (m)</text>
<text transform="translate(131.7,2142.55) rotate(-90)" font-size="62.5" text-anchor="middle" fill="#595959">Normalised modal displacements</text>
<line x1="448.20" x2="606.10" y1="1478.8" y2="1478.8" stroke="#5B9BD5" stroke-width="9.375" stroke-dasharray="18.75 18.75" stroke-linecap="round"/>
<text x="623.70" y="1498.70" font-size="56.25" text-anchor="start" fill="#595959" >α = 0, ω = 116.07 Hz</text>
<line x1="1148.30" x2="1304.50" y1="1478.8" y2="1478.8" stroke="#ED7D31" stroke-width="9.375" stroke-linecap="round"/>
<text x="1323.10" y="1498.70" font-size="56.25" text-anchor="start" fill="#595959" >α = 0.3, ω = 136.81 Hz</text>
<text x="1125.4" y="2779.9" font-size="63.5" text-anchor="middle" fill="#000" style="font-weight:normal;letter-spacing:-0.6px">(<tspan style="font-weight:bold">b</tspan>)</text>
<rect x="59.2" y="2798.9" width="2128.00" height="3.8" fill="#000"/>
<rect x="59.2" y="4082.50" width="2128.00" height="3.5" fill="#000"/>
<rect x="59.2" y="2798.9" width="7.7" height="1287.10" fill="#000"/>
<rect x="2179.70" y="2798.9" width="7.5" height="1287.10" fill="#000"/>
<clipPath id="cp3"><rect x="314.35" y="2929.60" width="1774.65" height="1047.00"/></clipPath>
<line x1="318.25" x2="2085.1" y1="3824.24" y2="3824.24" stroke="#000" stroke-width="4.2"/>
<rect x="318.25" y="2933.5" width="1766.85" height="1039.20" fill="none" stroke="#000" stroke-width="7.8" stroke-linejoin="round"/>
<g clip-path="url(#cp3)">
<path d="M318.25,3081.96 L322.67,3087.56 L327.08,3093.17 L331.50,3098.78 L335.92,3104.39 L340.34,3109.99 L344.75,3115.60 L349.17,3121.21 L353.59,3126.82 L358.00,3132.42 L362.42,3138.03 L366.84,3143.64 L371.26,3149.25 L375.67,3154.85 L380.09,3160.46 L384.51,3166.07 L388.92,3171.68 L393.34,3177.29 L397.76,3182.89 L402.18,3188.50 L406.59,3194.11 L411.01,3199.72 L415.43,3205.33 L419.84,3210.94 L424.26,3216.54 L428.68,3222.15 L433.10,3227.76 L437.51,3233.37 L441.93,3238.97 L446.35,3244.58 L450.76,3250.19 L455.18,3255.79 L459.60,3261.40 L464.02,3267.00 L468.43,3272.60 L472.85,3278.21 L477.27,3283.81 L481.68,3289.41 L486.10,3295.01 L490.52,3300.61 L494.94,3306.20 L499.35,3311.80 L503.77,3317.39 L508.19,3322.99 L512.60,3328.58 L517.02,3334.16 L521.44,3339.75 L525.85,3345.33 L530.27,3350.91 L534.69,3356.49 L539.11,3362.06 L543.52,3367.64 L547.94,3373.20 L552.36,3378.77 L556.77,3384.33 L561.19,3389.88 L565.61,3395.44 L570.03,3400.98 L574.44,3406.52 L578.86,3412.06 L583.28,3417.59 L587.69,3423.12 L592.11,3428.64 L596.53,3434.15 L600.95,3439.66 L605.36,3445.16 L609.78,3450.65 L614.20,3456.14 L618.61,3461.61 L623.03,3467.08 L627.45,3472.54 L631.87,3478.00 L636.28,3483.44 L640.70,3488.87 L645.12,3494.29 L649.53,3499.71 L653.95,3505.11 L658.37,3510.50 L662.79,3515.88 L667.20,3521.24 L671.62,3526.60 L676.04,3531.94 L680.45,3537.26 L684.87,3542.58 L689.29,3547.88 L693.71,3553.16 L698.12,3558.43 L702.54,3563.68 L706.96,3568.92 L711.37,3574.14 L715.79,3579.34 L720.21,3584.53 L724.63,3589.69 L729.04,3594.84 L733.46,3599.97 L737.88,3605.08 L742.29,3610.17 L746.71,3615.24 L751.13,3620.28 L755.55,3625.31 L759.96,3630.31 L764.38,3635.29 L768.80,3640.24 L773.21,3645.18 L777.63,3650.08 L782.05,3654.96 L786.47,3659.82 L790.88,3664.65 L795.30,3669.45 L799.72,3674.22 L804.13,3678.97 L808.55,3683.68 L812.97,3688.37 L817.39,3693.03 L821.80,3697.65 L826.22,3702.25 L830.64,3706.81 L835.05,3711.34 L839.47,3715.84 L843.89,3720.30 L848.30,3724.73 L852.72,3729.13 L857.14,3733.48 L861.56,3737.81 L865.97,3742.09 L870.39,3746.34 L874.81,3750.55 L879.22,3754.72 L883.64,3758.86 L888.06,3762.95 L892.48,3767.00 L896.89,3771.01 L901.31,3774.98 L905.73,3778.91 L910.14,3782.79 L914.56,3786.63 L918.98,3790.43 L923.40,3794.18 L927.81,3797.89 L932.23,3801.55 L936.65,3805.17 L941.06,3808.73 L945.48,3812.25 L949.90,3815.72 L954.32,3819.15 L958.73,3822.52 L963.15,3825.85 L967.57,3829.12 L971.98,3832.34 L976.40,3835.51 L980.82,3838.63 L985.24,3841.70 L989.65,3844.72 L994.07,3847.68 L998.49,3850.58 L1002.90,3853.43 L1007.32,3856.23 L1011.74,3858.97 L1016.16,3861.66 L1020.57,3864.29 L1024.99,3866.86 L1029.41,3869.37 L1033.82,3871.83 L1038.24,3874.23 L1042.66,3876.57 L1047.08,3878.85 L1051.49,3881.07 L1055.91,3883.24 L1060.33,3885.34 L1064.74,3887.38 L1069.16,3889.36 L1073.58,3891.28 L1078.00,3893.13 L1082.41,3894.93 L1086.83,3896.66 L1091.25,3898.33 L1095.66,3899.94 L1100.08,3901.48 L1104.50,3902.96 L1108.92,3904.38 L1113.33,3905.73 L1117.75,3907.02 L1122.17,3908.24 L1126.58,3909.40 L1131.00,3910.49 L1135.42,3911.52 L1139.84,3912.48 L1144.25,3913.38 L1148.67,3914.21 L1153.09,3914.98 L1157.50,3915.67 L1161.92,3916.31 L1166.34,3916.87 L1170.76,3917.37 L1175.17,3917.81 L1179.59,3918.18 L1184.01,3918.48 L1188.42,3918.71 L1192.84,3918.88 L1197.26,3918.98 L1201.67,3919.01 L1206.09,3918.98 L1210.51,3918.88 L1214.93,3918.71 L1219.34,3918.48 L1223.76,3918.18 L1228.18,3917.81 L1232.59,3917.37 L1237.01,3916.87 L1241.43,3916.31 L1245.85,3915.67 L1250.26,3914.98 L1254.68,3914.21 L1259.10,3913.38 L1263.51,3912.48 L1267.93,3911.52 L1272.35,3910.49 L1276.77,3909.40 L1281.18,3908.24 L1285.60,3907.02 L1290.02,3905.73 L1294.43,3904.38 L1298.85,3902.96 L1303.27,3901.48 L1307.69,3899.94 L1312.10,3898.33 L1316.52,3896.66 L1320.94,3894.93 L1325.35,3893.13 L1329.77,3891.28 L1334.19,3889.36 L1338.61,3887.38 L1343.02,3885.34 L1347.44,3883.24 L1351.86,3881.07 L1356.27,3878.85 L1360.69,3876.57 L1365.11,3874.23 L1369.53,3871.83 L1373.94,3869.37 L1378.36,3866.86 L1382.78,3864.29 L1387.19,3861.66 L1391.61,3858.97 L1396.03,3856.23 L1400.45,3853.43 L1404.86,3850.58 L1409.28,3847.68 L1413.70,3844.72 L1418.11,3841.70 L1422.53,3838.63 L1426.95,3835.51 L1431.37,3832.34 L1435.78,3829.12 L1440.20,3825.85 L1444.62,3822.52 L1449.03,3819.15 L1453.45,3815.72 L1457.87,3812.25 L1462.29,3808.73 L1466.70,3805.17 L1471.12,3801.55 L1475.54,3797.89 L1479.95,3794.18 L1484.37,3790.43 L1488.79,3786.63 L1493.21,3782.79 L1497.62,3778.91 L1502.04,3774.98 L1506.46,3771.01 L1510.87,3767.00 L1515.29,3762.95 L1519.71,3758.86 L1524.13,3754.72 L1528.54,3750.55 L1532.96,3746.34 L1537.38,3742.09 L1541.79,3737.81 L1546.21,3733.48 L1550.63,3729.13 L1555.04,3724.73 L1559.46,3720.30 L1563.88,3715.84 L1568.30,3711.34 L1572.71,3706.81 L1577.13,3702.25 L1581.55,3697.65 L1585.96,3693.03 L1590.38,3688.37 L1594.80,3683.68 L1599.22,3678.97 L1603.63,3674.22 L1608.05,3669.45 L1612.47,3664.65 L1616.88,3659.82 L1621.30,3654.96 L1625.72,3650.08 L1630.14,3645.18 L1634.55,3640.24 L1638.97,3635.29 L1643.39,3630.31 L1647.80,3625.31 L1652.22,3620.28 L1656.64,3615.24 L1661.06,3610.17 L1665.47,3605.08 L1669.89,3599.97 L1674.31,3594.84 L1678.72,3589.69 L1683.14,3584.53 L1687.56,3579.34 L1691.98,3574.14 L1696.39,3568.92 L1700.81,3563.68 L1705.23,3558.43 L1709.64,3553.16 L1714.06,3547.88 L1718.48,3542.58 L1722.90,3537.26 L1727.31,3531.94 L1731.73,3526.60 L1736.15,3521.24 L1740.56,3515.88 L1744.98,3510.50 L1749.40,3505.11 L1753.82,3499.71 L1758.23,3494.29 L1762.65,3488.87 L1767.07,3483.44 L1771.48,3478.00 L1775.90,3472.54 L1780.32,3467.08 L1784.74,3461.61 L1789.15,3456.14 L1793.57,3450.65 L1797.99,3445.16 L1802.40,3439.66 L1806.82,3434.15 L1811.24,3428.64 L1815.66,3423.12 L1820.07,3417.59 L1824.49,3412.06 L1828.91,3406.52 L1833.32,3400.98 L1837.74,3395.44 L1842.16,3389.88 L1846.58,3384.33 L1850.99,3378.77 L1855.41,3373.20 L1859.83,3367.64 L1864.24,3362.06 L1868.66,3356.49 L1873.08,3350.91 L1877.50,3345.33 L1881.91,3339.75 L1886.33,3334.16 L1890.75,3328.58 L1895.16,3322.99 L1899.58,3317.39 L1904.00,3311.80 L1908.41,3306.20 L1912.83,3300.61 L1917.25,3295.01 L1921.67,3289.41 L1926.08,3283.81 L1930.50,3278.21 L1934.92,3272.60 L1939.33,3267.00 L1943.75,3261.40 L1948.17,3255.79 L1952.59,3250.19 L1957.00,3244.58 L1961.42,3238.97 L1965.84,3233.37 L1970.25,3227.76 L1974.67,3222.15 L1979.09,3216.54 L1983.51,3210.94 L1987.92,3205.33 L1992.34,3199.72 L1996.76,3194.11 L2001.17,3188.50 L2005.59,3182.89 L2010.01,3177.29 L2014.43,3171.68 L2018.84,3166.07 L2023.26,3160.46 L2027.68,3154.85 L2032.09,3149.25 L2036.51,3143.64 L2040.93,3138.03 L2045.35,3132.42 L2049.76,3126.82 L2054.18,3121.21 L2058.60,3115.60 L2063.01,3109.99 L2067.43,3104.39 L2071.85,3098.78 L2076.27,3093.17 L2080.68,3087.56 L2085.10,3081.96" fill="none" stroke="#5B9BD5" stroke-width="9.375" stroke-dasharray="18.75 18.75" stroke-linecap="round" stroke-linejoin="round"/>
<path d="M318.25,3081.96 L322.67,3087.15 L327.08,3092.35 L331.50,3097.54 L335.92,3102.74 L340.34,3107.93 L344.75,3113.13 L349.17,3118.33 L353.59,3123.53 L358.00,3128.72 L362.42,3133.92 L366.84,3139.12 L371.26,3144.33 L375.67,3149.53 L380.09,3154.73 L384.51,3159.94 L388.92,3165.14 L393.34,3170.35 L397.76,3175.56 L402.18,3180.77 L406.59,3185.98 L411.01,3191.20 L415.43,3196.41 L419.84,3201.63 L424.26,3206.85 L428.68,3212.07 L433.10,3217.29 L437.51,3222.52 L441.93,3227.74 L446.35,3232.97 L450.76,3238.20 L455.18,3243.43 L459.60,3248.67 L464.02,3253.90 L468.43,3259.14 L472.85,3264.38 L477.27,3269.62 L481.68,3274.87 L486.10,3280.11 L490.52,3285.36 L494.94,3290.61 L499.35,3295.86 L503.77,3301.11 L508.19,3306.36 L512.60,3311.61 L517.02,3316.87 L521.44,3322.12 L525.85,3327.38 L530.27,3332.64 L534.69,3337.90 L539.11,3343.15 L543.52,3348.41 L547.94,3353.67 L552.36,3358.93 L556.77,3364.19 L561.19,3369.45 L565.61,3374.70 L570.03,3379.96 L574.44,3385.22 L578.86,3390.47 L583.28,3395.72 L587.69,3400.97 L592.11,3406.22 L596.53,3411.47 L600.95,3416.71 L605.36,3421.96 L609.78,3427.19 L614.20,3432.43 L618.61,3437.66 L623.03,3442.88 L627.45,3448.11 L631.87,3453.32 L636.28,3458.53 L640.70,3463.74 L645.12,3468.94 L649.53,3474.13 L653.95,3479.32 L658.37,3484.50 L662.79,3489.67 L667.20,3494.84 L671.62,3499.99 L676.04,3505.14 L680.45,3510.28 L684.87,3515.40 L689.29,3520.52 L693.71,3525.63 L698.12,3530.72 L702.54,3535.81 L706.96,3540.88 L711.37,3545.94 L715.79,3550.98 L720.21,3556.01 L724.63,3561.03 L729.04,3566.03 L733.46,3571.02 L737.88,3575.99 L742.29,3580.95 L746.71,3585.88 L751.13,3590.80 L755.55,3595.70 L759.96,3600.59 L764.38,3605.45 L768.80,3610.29 L773.21,3615.12 L777.63,3619.92 L782.05,3624.70 L786.47,3629.45 L790.88,3634.19 L795.30,3638.90 L799.72,3643.58 L804.13,3648.24 L808.55,3652.88 L812.97,3657.49 L817.39,3662.07 L821.80,3666.62 L826.22,3671.15 L830.64,3675.65 L835.05,3680.11 L839.47,3684.55 L843.89,3688.96 L848.30,3693.33 L852.72,3697.68 L857.14,3701.99 L861.56,3706.26 L865.97,3710.50 L870.39,3714.71 L874.81,3718.88 L879.22,3723.02 L883.64,3727.12 L888.06,3731.18 L892.48,3735.20 L896.89,3739.18 L901.31,3743.13 L905.73,3747.03 L910.14,3750.89 L914.56,3754.72 L918.98,3758.49 L923.40,3762.23 L927.81,3765.92 L932.23,3769.57 L936.65,3773.18 L941.06,3776.74 L945.48,3780.25 L949.90,3783.71 L954.32,3787.13 L958.73,3790.50 L963.15,3793.83 L967.57,3797.10 L971.98,3800.32 L976.40,3803.49 L980.82,3806.62 L985.24,3809.69 L989.65,3812.71 L994.07,3815.67 L998.49,3818.58 L1002.90,3821.44 L1007.32,3824.25 L1011.74,3827.00 L1016.16,3829.69 L1020.57,3832.33 L1024.99,3834.91 L1029.41,3837.44 L1033.82,3839.90 L1038.24,3842.31 L1042.66,3844.67 L1047.08,3846.96 L1051.49,3849.19 L1055.91,3851.37 L1060.33,3853.48 L1064.74,3855.53 L1069.16,3857.53 L1073.58,3859.46 L1078.00,3861.33 L1082.41,3863.13 L1086.83,3864.88 L1091.25,3866.56 L1095.66,3868.18 L1100.08,3869.73 L1104.50,3871.22 L1108.92,3872.65 L1113.33,3874.01 L1117.75,3875.31 L1122.17,3876.55 L1126.58,3877.71 L1131.00,3878.82 L1135.42,3879.85 L1139.84,3880.82 L1144.25,3881.73 L1148.67,3882.57 L1153.09,3883.34 L1157.50,3884.04 L1161.92,3884.68 L1166.34,3885.26 L1170.76,3885.76 L1175.17,3886.20 L1179.59,3886.57 L1184.01,3886.87 L1188.42,3887.11 L1192.84,3887.28 L1197.26,3887.38 L1201.67,3887.41 L1206.09,3887.38 L1210.51,3887.28 L1214.93,3887.11 L1219.34,3886.87 L1223.76,3886.57 L1228.18,3886.20 L1232.59,3885.76 L1237.01,3885.26 L1241.43,3884.68 L1245.85,3884.04 L1250.26,3883.34 L1254.68,3882.57 L1259.10,3881.73 L1263.51,3880.82 L1267.93,3879.85 L1272.35,3878.82 L1276.77,3877.71 L1281.18,3876.55 L1285.60,3875.31 L1290.02,3874.01 L1294.43,3872.65 L1298.85,3871.22 L1303.27,3869.73 L1307.69,3868.18 L1312.10,3866.56 L1316.52,3864.88 L1320.94,3863.13 L1325.35,3861.33 L1329.77,3859.46 L1334.19,3857.53 L1338.61,3855.53 L1343.02,3853.48 L1347.44,3851.37 L1351.86,3849.19 L1356.27,3846.96 L1360.69,3844.67 L1365.11,3842.31 L1369.53,3839.90 L1373.94,3837.44 L1378.36,3834.91 L1382.78,3832.33 L1387.19,3829.69 L1391.61,3827.00 L1396.03,3824.25 L1400.45,3821.44 L1404.86,3818.58 L1409.28,3815.67 L1413.70,3812.71 L1418.11,3809.69 L1422.53,3806.62 L1426.95,3803.49 L1431.37,3800.32 L1435.78,3797.10 L1440.20,3793.83 L1444.62,3790.50 L1449.03,3787.13 L1453.45,3783.71 L1457.87,3780.25 L1462.29,3776.74 L1466.70,3773.18 L1471.12,3769.57 L1475.54,3765.92 L1479.95,3762.23 L1484.37,3758.49 L1488.79,3754.72 L1493.21,3750.89 L1497.62,3747.03 L1502.04,3743.13 L1506.46,3739.18 L1510.87,3735.20 L1515.29,3731.18 L1519.71,3727.12 L1524.13,3723.02 L1528.54,3718.88 L1532.96,3714.71 L1537.38,3710.50 L1541.79,3706.26 L1546.21,3701.99 L1550.63,3697.68 L1555.04,3693.33 L1559.46,3688.96 L1563.88,3684.55 L1568.30,3680.11 L1572.71,3675.65 L1577.13,3671.15 L1581.55,3666.62 L1585.96,3662.07 L1590.38,3657.49 L1594.80,3652.88 L1599.22,3648.24 L1603.63,3643.58 L1608.05,3638.90 L1612.47,3634.19 L1616.88,3629.45 L1621.30,3624.70 L1625.72,3619.92 L1630.14,3615.12 L1634.55,3610.29 L1638.97,3605.45 L1643.39,3600.59 L1647.80,3595.70 L1652.22,3590.80 L1656.64,3585.88 L1661.06,3580.95 L1665.47,3575.99 L1669.89,3571.02 L1674.31,3566.03 L1678.72,3561.03 L1683.14,3556.01 L1687.56,3550.98 L1691.98,3545.94 L1696.39,3540.88 L1700.81,3535.81 L1705.23,3530.72 L1709.64,3525.63 L1714.06,3520.52 L1718.48,3515.40 L1722.90,3510.28 L1727.31,3505.14 L1731.73,3499.99 L1736.15,3494.84 L1740.56,3489.67 L1744.98,3484.50 L1749.40,3479.32 L1753.82,3474.13 L1758.23,3468.94 L1762.65,3463.74 L1767.07,3458.53 L1771.48,3453.32 L1775.90,3448.11 L1780.32,3442.88 L1784.74,3437.66 L1789.15,3432.43 L1793.57,3427.19 L1797.99,3421.96 L1802.40,3416.71 L1806.82,3411.47 L1811.24,3406.22 L1815.66,3400.97 L1820.07,3395.72 L1824.49,3390.47 L1828.91,3385.22 L1833.32,3379.96 L1837.74,3374.70 L1842.16,3369.45 L1846.58,3364.19 L1850.99,3358.93 L1855.41,3353.67 L1859.83,3348.41 L1864.24,3343.15 L1868.66,3337.90 L1873.08,3332.64 L1877.50,3327.38 L1881.91,3322.12 L1886.33,3316.87 L1890.75,3311.61 L1895.16,3306.36 L1899.58,3301.11 L1904.00,3295.86 L1908.41,3290.61 L1912.83,3285.36 L1917.25,3280.11 L1921.67,3274.87 L1926.08,3269.62 L1930.50,3264.38 L1934.92,3259.14 L1939.33,3253.90 L1943.75,3248.67 L1948.17,3243.43 L1952.59,3238.20 L1957.00,3232.97 L1961.42,3227.74 L1965.84,3222.52 L1970.25,3217.29 L1974.67,3212.07 L1979.09,3206.85 L1983.51,3201.63 L1987.92,3196.41 L1992.34,3191.20 L1996.76,3185.98 L2001.17,3180.77 L2005.59,3175.56 L2010.01,3170.35 L2014.43,3165.14 L2018.84,3159.94 L2023.26,3154.73 L2027.68,3149.53 L2032.09,3144.33 L2036.51,3139.12 L2040.93,3133.92 L2045.35,3128.72 L2049.76,3123.53 L2054.18,3118.33 L2058.60,3113.13 L2063.01,3107.93 L2067.43,3102.74 L2071.85,3097.54 L2076.27,3092.35 L2080.68,3087.15 L2085.10,3081.96" fill="none" stroke="#ED7D31" stroke-width="9.375" stroke-linecap="round" stroke-linejoin="round"/>
</g>
<text x="318.25" y="3907.70" font-size="56.25" text-anchor="middle" fill="#595959" >0</text>
<text x="671.62" y="3907.70" font-size="56.25" text-anchor="middle" fill="#595959" >0.1</text>
<text x="1024.99" y="3907.70" font-size="56.25" text-anchor="middle" fill="#595959" >0.2</text>
<text x="1378.36" y="3907.70" font-size="56.25" text-anchor="middle" fill="#595959" >0.3</text>
<text x="1731.73" y="3907.70" font-size="56.25" text-anchor="middle" fill="#595959" >0.4</text>
<text x="2085.10" y="3907.70" font-size="56.25" text-anchor="middle" fill="#595959" >0.5</text>
<text x="269.50" y="3989.90" font-size="56.25" text-anchor="end" fill="#595959" >-0.2</text>
<text x="269.50" y="3841.44" font-size="56.25" text-anchor="end" fill="#595959" >0</text>
<text x="269.50" y="3692.99" font-size="56.25" text-anchor="end" fill="#595959" >0.2</text>
<text x="269.50" y="3544.53" font-size="56.25" text-anchor="end" fill="#595959" >0.4</text>
<text x="269.50" y="3396.07" font-size="56.25" text-anchor="end" fill="#595959" >0.6</text>
<text x="269.50" y="3247.61" font-size="56.25" text-anchor="end" fill="#595959" >0.8</text>
<text x="269.50" y="3099.16" font-size="56.25" text-anchor="end" fill="#595959" >1</text>
<text x="269.50" y="2950.70" font-size="56.25" text-anchor="end" fill="#595959" >1.2</text>
<text x="1161.20" y="4062.20" font-size="62.5" text-anchor="middle" fill="#595959" >Length of rotor (m)</text>
<text transform="translate(131.7,3521.5) rotate(-90)" font-size="62.5" text-anchor="middle" fill="#595959">Normalised modal displacements</text>
<line x1="375.60" x2="533.50" y1="2842.3" y2="2842.3" stroke="#5B9BD5" stroke-width="9.375" stroke-dasharray="18.75 18.75" stroke-linecap="round"/>
<text x="550.80" y="2862.00" font-size="56.25" text-anchor="start" fill="#595959" >α = 0, ω = 298.85 Hz</text>
<line x1="1143.60" x2="1300.40" y1="2842.3" y2="2842.3" stroke="#ED7D31" stroke-width="9.375" stroke-linecap="round"/>
<text x="1319.00" y="2862.00" font-size="56.25" text-anchor="start" fill="#595959" >α = 0.3, ω = 310.40 Hz</text>
<text x="1124.8" y="4151.4" font-size="63.5" text-anchor="middle" fill="#000" style="font-weight:normal;letter-spacing:-0.6px">(<tspan style="font-weight:bold">c</tspan>)</text>
</svg></body></html>
